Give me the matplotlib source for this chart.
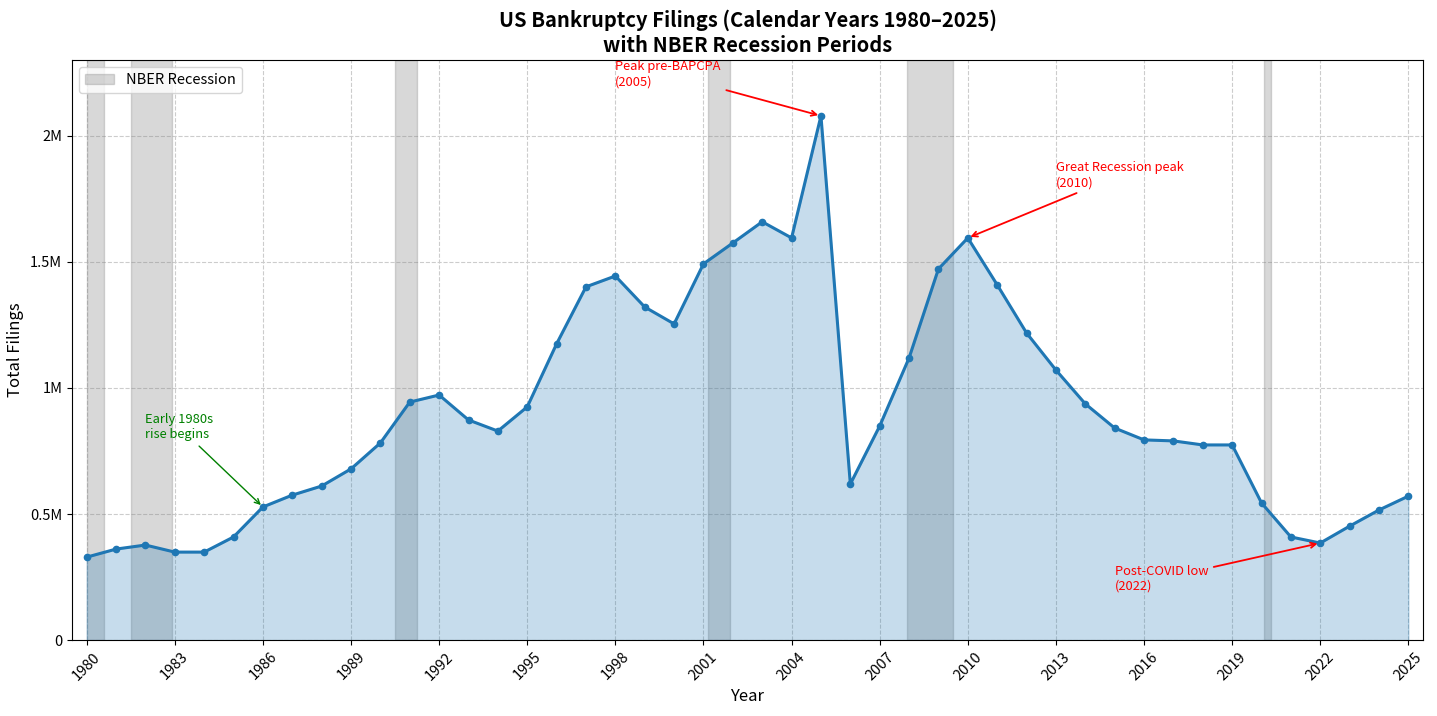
import matplotlib
matplotlib.use("Agg")
import matplotlib.pyplot as plt
import matplotlib.ticker as ticker

plt.rcParams["font.family"] = ["Noto Sans CJK JP", "DejaVu Sans"]

# ── Data ──────────────────────────────────────────────────────────────────────
years = list(range(1980, 2026))
filings = [
    329000, 361000, 377000, 349000, 349000, 409000, 528000, 575000, 611000, 679000,
    782000, 944000, 972000, 873000, 829000, 925000, 1175000, 1401000, 1444000, 1321000,
    1254000, 1492000, 1575000, 1659000, 1595000, 2079000, 619000, 849000, 1119000, 1472000,
    1595000, 1409000, 1218000, 1071000, 937000, 841000, 794000, 790000, 774000, 774000,
    544000, 409000, 385000, 452000, 516000, 571000,
]

# NBER recessions (start, end) in decimal years
recessions = [
    (1980.0, 1980.58),
    (1981.5, 1982.92),
    (1990.5, 1991.25),
    (2001.17, 2001.92),
    (2007.92, 2009.5),
    (2020.08, 2020.33),
]

# (label, point year, text x, text y, colour)
notes = [
    ("Peak pre-BAPCPA\n(2005)", 2005, 1998, 2.2e6, "red"),
    ("Great Recession peak\n(2010)", 2010, 2013, 1.8e6, "red"),
    ("Early 1980s\nrise begins", 1986, 1982, 0.8e6, "green"),
    ("Post-COVID low\n(2022)", 2022, 2015, 0.2e6, "red"),
]

tick_years = list(range(1980, 2026, 3))


def fmt_millions(v, _pos):
    if v == 0:
        return "0"
    return f"{v / 1e6:g}M"


fig = plt.figure(figsize=(14.37, 7.16), dpi=100)
ax = fig.add_axes([0.0501, 0.106, 0.9402, 0.81])

for i, (start, end) in enumerate(recessions):
    ax.axvspan(start, end, color="gray", alpha=0.3, zorder=1,
               label="NBER Recession" if i == 0 else None)

ax.fill_between(years, filings, 0, color="#1f77b4", alpha=0.25, zorder=2)
ax.plot(years, filings, color="#1f77b4", linewidth=2.2, marker="o",
        markersize=4.5, zorder=3)

for text, yr, tx, ty, col in notes:
    val = filings[years.index(yr)]
    ax.annotate(
        text, xy=(yr, val), xytext=(tx, ty),
        color=col, fontsize=9.3,
        arrowprops=dict(arrowstyle="->", color=col,
                        lw=1.3 if col == "red" else 1.0),
        zorder=5,
    )

ax.set_xlim(1979.5, 2025.5)
ax.set_ylim(0, 2.3e6)
ax.set_xticks(tick_years)
ax.set_xticklabels([str(y) for y in tick_years], rotation=45, fontsize=10.5)
ax.set_yticks([0, 0.5e6, 1e6, 1.5e6, 2e6])
ax.yaxis.set_major_formatter(ticker.FuncFormatter(fmt_millions))
ax.tick_params(axis="y", labelsize=10.5)

ax.grid(True, linestyle="--", color="#cccccc", linewidth=0.8, zorder=0)
ax.set_axisbelow(True)

ax.set_xlabel("Year", fontsize=12)
ax.set_ylabel("Total Filings", fontsize=12)
ax.set_title("US Bankruptcy Filings (Calendar Years 1980–2025)\nwith NBER Recession Periods",
             fontsize=14.5, fontweight="bold", pad=6)
ax.legend(loc="upper left", fontsize=10.5)

fig.savefig("out.png", dpi=100)
